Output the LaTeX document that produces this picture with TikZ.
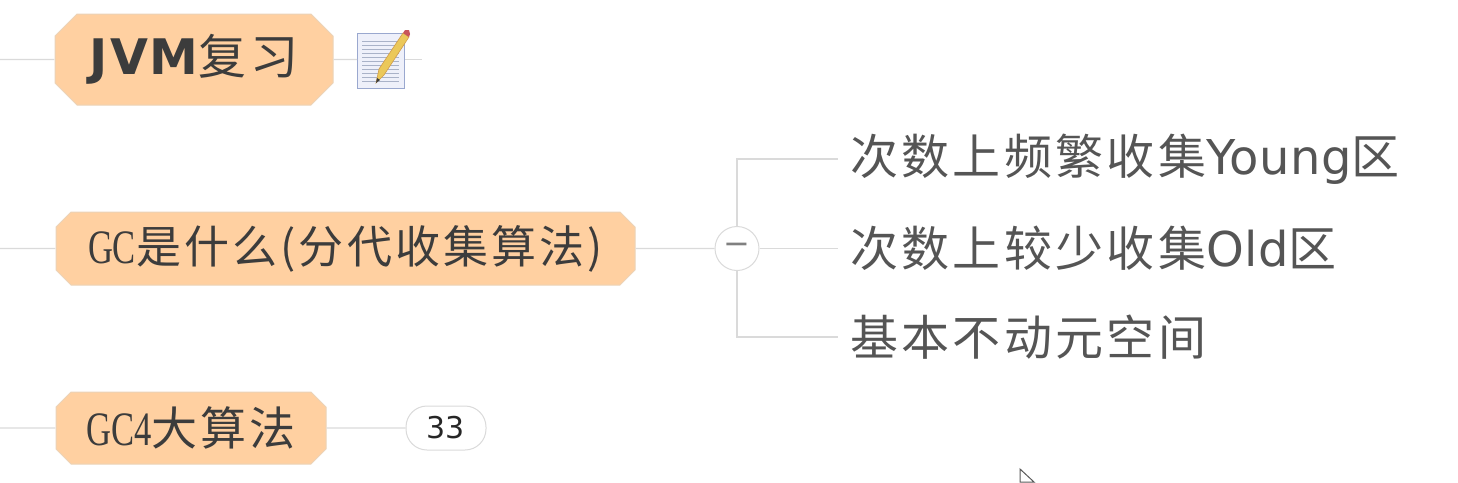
\documentclass[tikz,border=0pt]{standalone}
\usepackage{fontspec}
\usepackage{xcolor}
\usetikzlibrary{shapes.misc}
\setmainfont{DejaVu Sans}
\newfontfamily\cjk[LetterSpace=7]{Noto Sans CJK SC}
\newfontfamily\narrowlatin[FakeStretch=0.72]{Liberation Serif}
\definecolor{topicfill}{HTML}{FFD0A1}
\definecolor{topicline}{HTML}{EBD3B8}
\definecolor{linkgray}{HTML}{DADADA}
\definecolor{inkgray}{HTML}{3C3C3C}
\definecolor{leafgray}{HTML}{555555}
\definecolor{notepaper}{HTML}{EEF0FA}
\definecolor{noterule}{HTML}{A9B2C8}
\definecolor{noteedge}{HTML}{9AA8CF}
\definecolor{pencilbody}{HTML}{EBC85A}
\definecolor{pencilend}{HTML}{C8555A}
\newcommand{\gctext}[1]{{\fontsize{48}{48}\selectfont\narrowlatin #1}}
\newcommand{\cjktext}[2]{{\fontsize{#1}{#1}\selectfont\cjk #2}}
\newcommand{\leafcjk}[1]{\cjktext{48}{#1}}
\newcommand{\leaflatin}[1]{{\fontsize{48}{48}\selectfont\addfontfeature{LetterSpace=1} #1}}

\begin{document}
\begin{tikzpicture}[x=1pt,y=-1pt,
        topic/.style={chamfered rectangle,chamfered rectangle xsep=#1,chamfered rectangle ysep=#1,draw=topicline,fill=topicfill,text=inkgray,inner sep=0pt,line width=1pt},
        leaf/.style={anchor=west,inner xsep=12pt,inner ysep=0pt,text=leafgray},
        link/.style={draw=linkgray,line width=1.2pt}]
    \useasboundingbox (0,0) rectangle (1458,482);

    \node[topic=11pt,minimum width=278pt,minimum height=91pt] (jvm) at (194,59.5) {\raisebox{-3pt}{{\fontsize{49}{49}\selectfont\bfseries\addfontfeature{LetterSpace=4}JVM}\cjktext{48}{复习}}};
    \node[topic=7.5pt,minimum width=579pt,minimum height=73pt] (gc) at (345.5,248.5) {\raisebox{-2pt}{\gctext{GC}\cjktext{45}{是什么(分代收集算法)}}};
    \node[topic=7.5pt,minimum width=270pt,minimum height=72pt] (algo) at (191,428) {\raisebox{-1pt}{\gctext{GC4}\cjktext{46}{大算法}}};

    \node[draw=linkgray,fill=white,circle,minimum size=44pt,inner sep=0pt,line width=1pt,text=gray] (fold) at (737,248.5) {\fontsize{32}{32}\selectfont −};
    \node[leaf] (young) at (838,159) {\raisebox{-2pt}{\leafcjk{次数上频繁收集}\leaflatin{Young}\leafcjk{区}}};
    \node[leaf] (old) at (838,248.5) {\raisebox{-2pt}{\leafcjk{次数上较少收集}\leaflatin{Old}\leafcjk{区}}};
    \node[leaf] (perm) at (838,337) {\raisebox{-1pt}{\leafcjk{基本不动元空间}}};

    \node[draw=linkgray,fill=white,rounded corners=21pt,minimum width=80pt,minimum height=44pt,inner sep=0pt,line width=1pt,text=black!85] (count) at (446,428) {\fontsize{30}{30}\selectfont 33};
    \node[draw=noteedge,fill=notepaper,minimum width=47pt,minimum height=55pt,inner sep=0pt,line width=1pt] (note) at (381,61) {};

    \coordinate (jvmin) at (0,59.5);
    \coordinate (gcin) at (0,248.5);
    \coordinate (algoin) at (0,428);
    \coordinate (noteout) at (422,59.5);

    \draw[link] (jvmin)--(jvm);
    \draw[link] (gcin)--(gc);
    \draw[link] (algoin)--(algo);
    \draw[link] (jvm)--(jvm-|note.west);
    \draw[link] (note.east|-noteout)--(noteout);
    \draw[link] (gc)--(fold);
    \draw[link] (algo)--(count);
    \draw[link] (fold.north)|-(young.west);
    \draw[link] (fold)--(old);
    \draw[link] (fold.south)|-(perm.west);

    % note icon
    \begin{scope}[shift={(note.north west)}]
        \foreach \rowy in {8,12,...,48}
            \draw[noterule,line width=1pt] (5,\rowy)--(42,\rowy);
        \draw[fill=pencilbody,draw=brown!60!pencilbody,line width=0.6pt] (19,50)--(22,36)--(46,0)--(52,4)--(27,42)--cycle;
        \fill[pencilend] (46,0)--(48,-3)--(52,-3)--(53,1)--(52,4)--cycle;
        \fill[inkgray] (19,50)--(20,45)--(23,47)--cycle;
    \end{scope}

    % mouse pointer, cut off by the page edge
    \draw[gray!70!black,line width=1pt,fill=white] (1020,469)--(1020,482)--(1034,482)--cycle;
\end{tikzpicture}
\end{document}
